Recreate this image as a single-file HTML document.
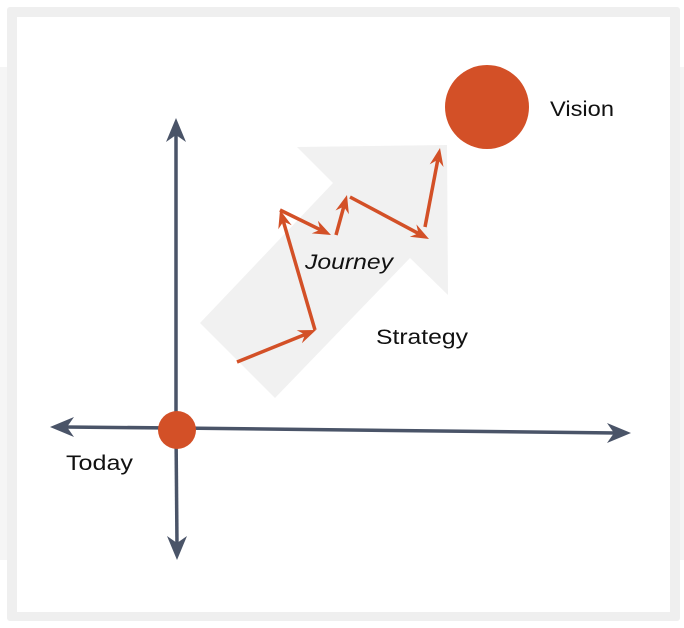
<!DOCTYPE html>
<html><head><style>
html,body{margin:0;padding:0;background:#fff;width:684px;height:628px;overflow:hidden}
.band{position:absolute;left:0;top:67px;width:684px;height:493px;background:#f5f5f5}
.frame{position:absolute;left:7px;top:7px;width:673px;height:614px;background:#efefef;border-radius:3px}
.card{position:absolute;left:17px;top:17px;width:653px;height:595px;background:#fff}
svg{position:absolute;left:0;top:0}
text{font-family:"Liberation Sans",sans-serif;font-size:21px;fill:#111}
</style></head><body>
<div class="band"></div><div class="frame"></div><div class="card"></div>
<svg width="684" height="628" viewBox="0 0 684 628">
<polygon points="297,147 447,145 448,295 410,258 275,398 200,323 333,183" fill="#f1f1f1"/>
<g stroke="#4a5468" stroke-width="3.5" fill="none">
<line x1="176" y1="428" x2="176" y2="132"/>
<line x1="176" y1="430" x2="177" y2="546"/>
<line x1="176" y1="428" x2="64" y2="427"/>
<line x1="176" y1="428" x2="617" y2="433"/>
</g>
<g fill="#4a5468">
<polygon points="176,118 186,142 176,135 166,142"/>
<polygon points="177,560 167,536 177,543 187,536"/>
<polygon points="50,427 74,417 67,427 74,437"/>
<polygon points="631,433 607,423 614,433 607,443"/>
</g>
<circle cx="177" cy="430" r="19" fill="#d35027"/>
<circle cx="487" cy="107" r="42" fill="#d35027"/>
<g stroke="#d35027" stroke-width="3.5" fill="none">
<line x1="237" y1="362" x2="305" y2="334.5"/>
<line x1="315" y1="330" x2="283.4" y2="221.5"/>
<line x1="280" y1="210" x2="320.2" y2="229.7"/>
<line x1="336" y1="235" x2="343.8" y2="206.6"/>
<line x1="350" y1="197" x2="418.4" y2="233.4"/>
<line x1="425" y1="227" x2="437.8" y2="159.8"/>
</g>
<g fill="#d35027">
<polygon points="316,330 301.9,343.3 304.9,334.5 296.7,330.3"/>
<polygon points="280,210 291.7,225.3 283.4,221.5 278.3,229.3"/>
<polygon points="331,235 311.7,233.4 320.2,229.7 317.9,220.8"/>
<polygon points="347,195 348.9,214.3 343.8,206.6 335.5,210.5"/>
<polygon points="429,239 409.8,236.8 418.4,233.4 416.4,224.4"/>
<polygon points="440,148 443.5,167 437.8,159.8 429.7,164.4"/>
</g>
<text x="550" y="116" textLength="64" lengthAdjust="spacingAndGlyphs">Vision</text>
<text x="305" y="269" font-style="italic" textLength="88" lengthAdjust="spacingAndGlyphs">Journey</text>
<text x="376" y="344" textLength="92" lengthAdjust="spacingAndGlyphs">Strategy</text>
<text x="66" y="470" textLength="67" lengthAdjust="spacingAndGlyphs">Today</text>
</svg>
</body></html>
